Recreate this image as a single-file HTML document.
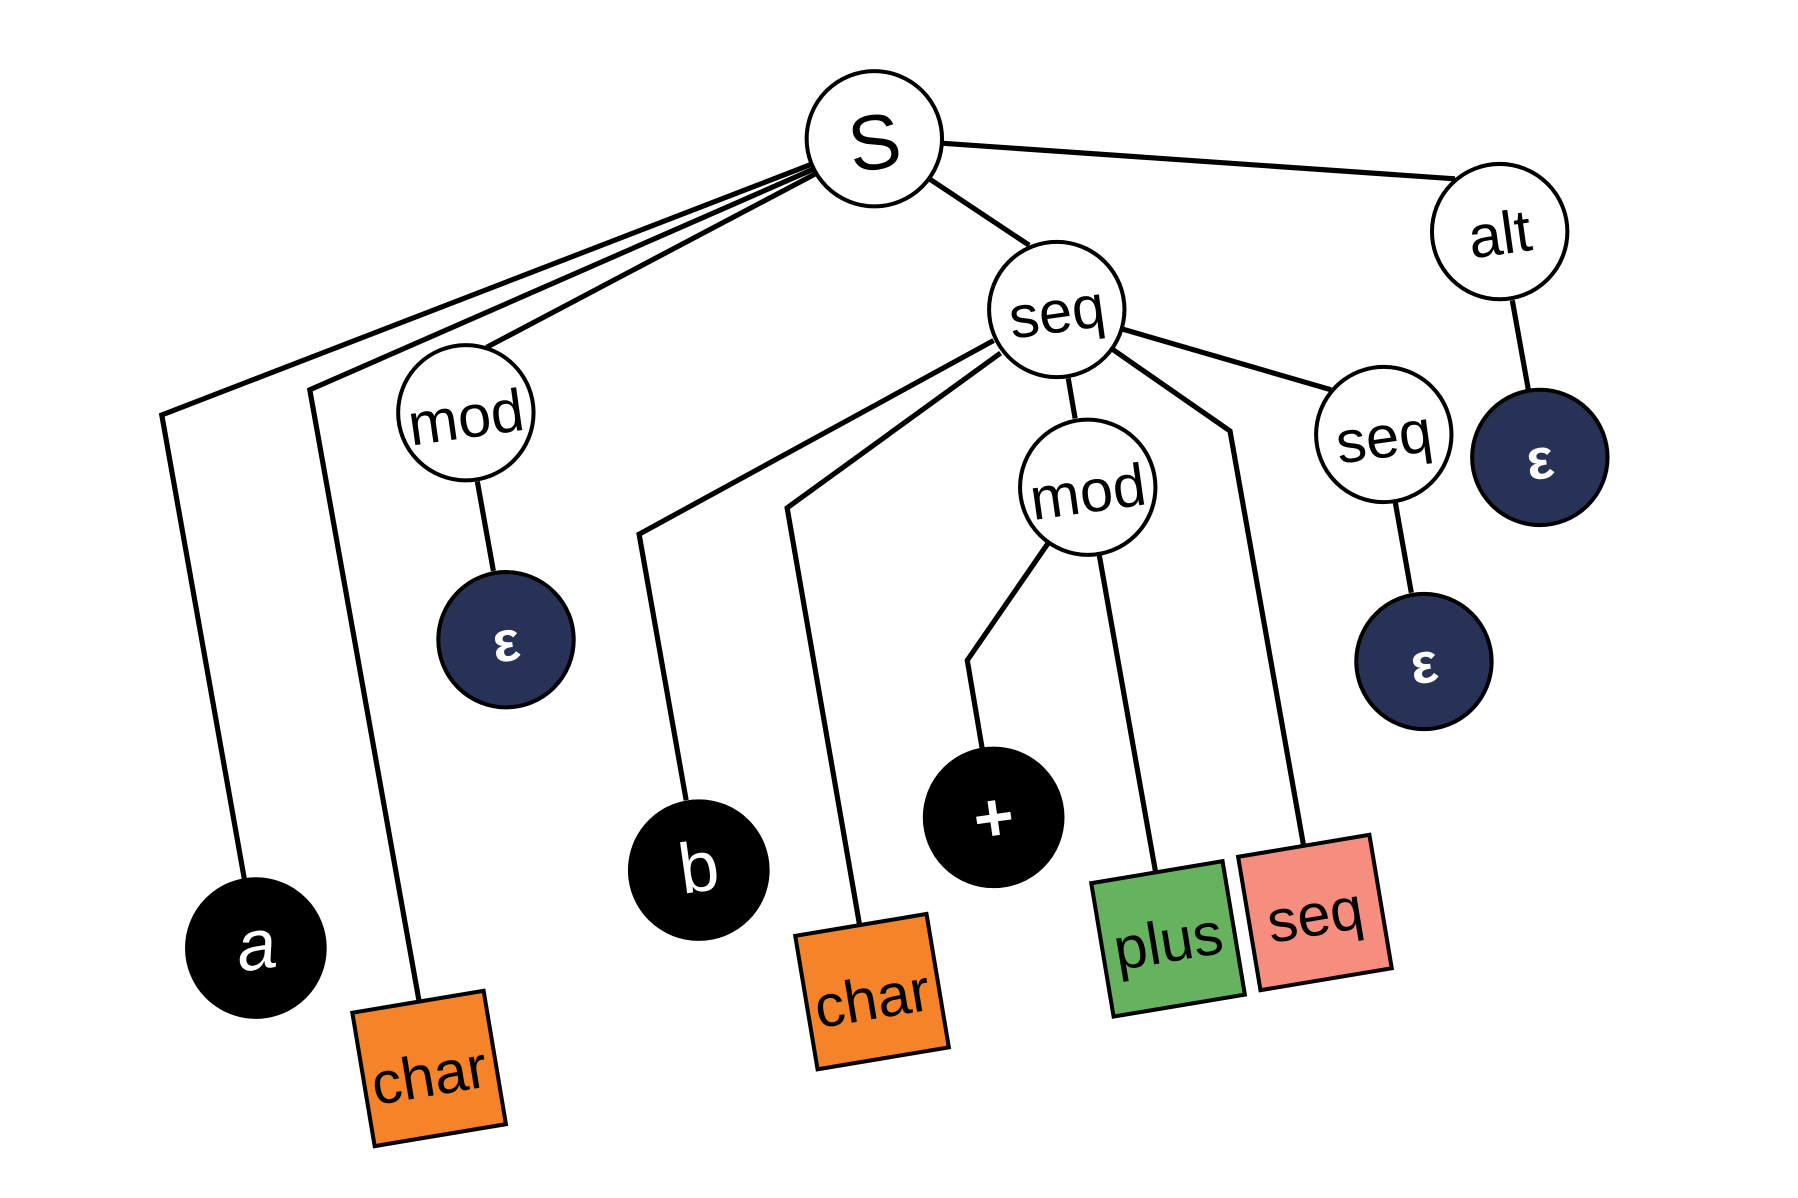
<!DOCTYPE html>
<html><head><meta charset="utf-8"><style>
html,body{margin:0;padding:0;background:#fff;}
svg{display:block;}
text{font-family:"Liberation Sans",sans-serif;text-anchor:middle;dominant-baseline:central;}
</style></head><body>
<svg width="1798" height="1198" viewBox="0 0 1567 1045" preserveAspectRatio="none" xmlns="http://www.w3.org/2000/svg">
<g fill="none" stroke="#000" stroke-width="4.5" stroke-linejoin="miter">
<polyline points="708,143 141,362 213,767"/>
<polyline points="708,148 270,340 365,872"/>
<polyline points="710,152 424,303"/>
<polyline points="810,156 897,214"/>
<polyline points="822,125 1268,156"/>
<polyline points="1318,262 1332,340"/>
<polyline points="866,297 557,466 598,698"/>
<polyline points="872,308 686,443 749,806"/>
<polyline points="931,330 937,365"/>
<polyline points="970,305 1072,376 1136,737"/>
<polyline points="978,287 1160,340"/>
<polyline points="416,420 430,498"/>
<polyline points="914,473 843,576 856,653"/>
<polyline points="958,484 1007,760"/>
<polyline points="1216,438 1230,517"/>
</g>
<g stroke="#000" stroke-width="3.5">
<circle cx="762" cy="121" r="59" fill="#fff"/>
<circle cx="1307" cy="202" r="59" fill="#fff"/>
<circle cx="921" cy="270" r="59" fill="#fff"/>
<circle cx="406" cy="360" r="59" fill="#fff"/>
<circle cx="948" cy="425" r="59" fill="#fff"/>
<circle cx="1206" cy="379" r="59" fill="#fff"/>
<circle cx="441" cy="558" r="59" fill="#283256"/>
<circle cx="1241" cy="577" r="59" fill="#283256"/>
<circle cx="1342" cy="399" r="59" fill="#283256"/>
<circle cx="223" cy="827" r="60" fill="#000"/>
<circle cx="609" cy="759" r="60" fill="#000"/>
<circle cx="866" cy="713" r="60" fill="#000"/>
<rect x="-58" y="-59" width="116" height="118" fill="#f58329" transform="translate(374,932) rotate(-9.5)"/>
<rect x="-58" y="-59" width="116" height="118" fill="#f58329" transform="translate(760,865) rotate(-9.5)"/>
<rect x="-58" y="-59" width="116" height="118" fill="#66b25e" transform="translate(1018,819) rotate(-9.5)"/>
<rect x="-58" y="-59" width="116" height="118" fill="#f68e80" transform="translate(1146,796) rotate(-9.5)"/>
</g>
<g fill="#000" font-size="52">
<text transform="translate(762,124) rotate(-8)" font-size="68">S</text>
<text transform="translate(1307,204) rotate(-8)">alt</text>
<text transform="translate(921,272) rotate(-8)">seq</text>
<text transform="translate(406,364) rotate(-8)">mod</text>
<text transform="translate(948,429) rotate(-8)">mod</text>
<text transform="translate(1206,381) rotate(-8)">seq</text>
<text transform="translate(374,938) rotate(-9.5)">char</text>
<text transform="translate(760,871) rotate(-9.5)">char</text>
<text transform="translate(1018,821) rotate(-9.5)">plus</text>
<text transform="translate(1146,798) rotate(-9.5)">seq</text>
</g>
<g fill="#fff" font-size="50" font-weight="bold">
<text transform="translate(441,560) rotate(-8)">ε</text>
<text transform="translate(1241,579) rotate(-8)">ε</text>
<text transform="translate(1342,401) rotate(-8)">ε</text>
<text transform="translate(223,825) rotate(-8)" font-style="italic" font-size="62" font-weight="normal">a</text>
<text transform="translate(609,757) rotate(-8)" font-size="62" font-weight="normal">b</text>
<text transform="translate(866,713) rotate(-8)" font-size="60">+</text>
</g>
</svg>
</body></html>
